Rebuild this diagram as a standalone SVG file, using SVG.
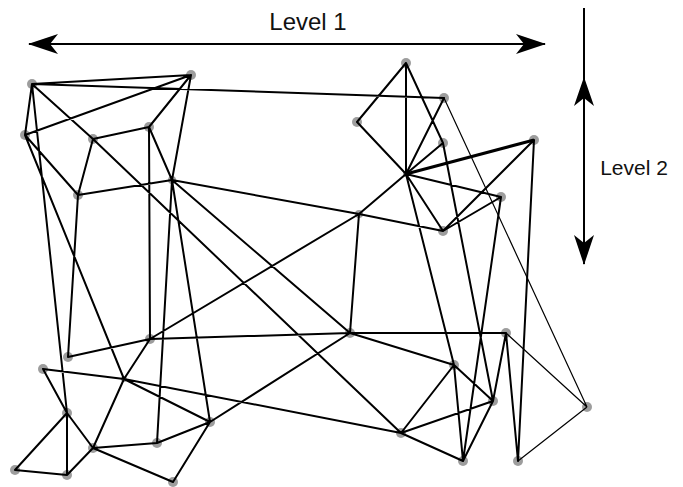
<svg xmlns="http://www.w3.org/2000/svg" width="683" height="487" viewBox="0 0 683 487">
<style>
.n{fill:#8c8c8c;opacity:0.85}
.e{stroke:#000;stroke-width:2;fill:none;stroke-linecap:round}
.t{stroke:#000;stroke-width:1.2;fill:none}
.lbl{font-family:"Liberation Sans",Arial,sans-serif;fill:#111}
</style>
<defs>
<marker id="ah" viewBox="0 0 30 20" refX="29" refY="10" markerWidth="30" markerHeight="20" markerUnits="userSpaceOnUse" orient="auto-start-reverse">
<path d="M30,10 L0,0 L8,10 L0,20 Z" fill="#000"/>
</marker>
</defs>
<rect width="683" height="487" fill="#fff"/>
<g id="nodes">
<g id="A"><circle class="n" cx="32" cy="84" r="5"/></g>
<g id="B"><circle class="n" cx="191" cy="75" r="5"/></g>
<g id="C"><circle class="n" cx="25" cy="135" r="5"/></g>
<g id="D"><circle class="n" cx="93" cy="139" r="5"/></g>
<g id="E"><circle class="n" cx="149" cy="127" r="5"/></g>
<g id="F"><circle class="n" cx="172" cy="180" r="4"/></g>
<g id="G"><circle class="n" cx="78" cy="195" r="5"/></g>
<g id="H"><circle class="n" cx="406" cy="63" r="5"/></g>
<g id="I"><circle class="n" cx="444" cy="98" r="5"/></g>
<g id="J"><circle class="n" cx="357" cy="122" r="5"/></g>
<g id="K"><circle class="n" cx="443" cy="143" r="5"/></g>
<g id="L"><circle class="n" cx="406" cy="174" r="3"/></g>
<g id="M"><circle class="n" cx="534" cy="140" r="5"/></g>
<g id="N"><circle class="n" cx="501" cy="197" r="5"/></g>
<g id="O"><circle class="n" cx="443" cy="231" r="5"/></g>
<g id="P"><circle class="n" cx="359" cy="214" r="4"/></g>
<g id="Q"><circle class="n" cx="350" cy="333" r="5"/></g>
<g id="R"><circle class="n" cx="150" cy="339" r="5"/></g>
<g id="S"><circle class="n" cx="68" cy="357" r="5"/></g>
<g id="T"><circle class="n" cx="43" cy="369" r="5"/></g>
<g id="U"><circle class="n" cx="124" cy="379" r="3"/></g>
<g id="V"><circle class="n" cx="67" cy="413" r="5"/></g>
<g id="W"><circle class="n" cx="93" cy="448" r="5"/></g>
<g id="X"><circle class="n" cx="157" cy="443" r="5"/></g>
<g id="Y"><circle class="n" cx="210" cy="422" r="5"/></g>
<g id="Z"><circle class="n" cx="15" cy="470" r="5"/></g>
<g id="AA"><circle class="n" cx="67" cy="475" r="5"/></g>
<g id="AB"><circle class="n" cx="173" cy="482" r="5"/></g>
<g id="AC"><circle class="n" cx="506" cy="333" r="5"/></g>
<g id="AD"><circle class="n" cx="454" cy="365" r="5"/></g>
<g id="AE"><circle class="n" cx="493" cy="401" r="5"/></g>
<g id="AF"><circle class="n" cx="587" cy="407" r="5"/></g>
<g id="AG"><circle class="n" cx="401" cy="433" r="5"/></g>
<g id="AH"><circle class="n" cx="463" cy="461" r="5"/></g>
<g id="AI"><circle class="n" cx="518" cy="461" r="5"/></g>
</g>
<g id="connectors">
<path class="e" d="M32,84L191,75 M32,84L444,98 M32,84L25,135 M32,84L67,413 M32,84L93,139
M191,75L25,135 M191,75L149,127 M191,75L172,180
M25,135L124,379 M25,135L78,195
M93,139L149,127 M93,139L78,195 M93,139L401,433
M149,127L150,339 M149,127L172,180
M172,180L78,195 M172,180L359,214 M172,180L350,333 M172,180L157,443 M172,180L210,422
M78,195L68,357
M406,63L357,122 M406,63L406,174 M406,63L443,143
M444,98L406,174
M357,122L406,174
M443,143L406,174 M443,143L493,401
M406,174L501,197 M406,174L443,231 M406,174L359,214 M406,174L454,365
M534,140L443,231 M534,140L518,461
M501,197L443,231 M501,197L463,461
M443,231L359,214
M359,214L350,333 M359,214L150,339
M150,339L350,333 M350,333L506,333 M350,333L210,422 M350,333L454,365
M150,339L68,357 M150,339L124,379
M43,369L124,379 M43,369L67,413
M124,379L93,448 M124,379L210,422 M124,379L401,433
M67,413L93,448 M67,413L15,470 M67,413L67,475
M93,448L157,443 M93,448L67,475 M93,448L173,482
M157,443L210,422 M210,422L173,482 M15,470L67,475
M506,333L493,401 M506,333L518,461
M454,365L493,401 M454,365L401,433 M454,365L463,461
M493,401L401,433 M493,401L463,461 M401,433L463,461"/>
<path d="M406,174L534,140" stroke="#000" stroke-width="3" fill="none"/>
<path class="t" d="M444,98L587,407 M506,333L587,407 M518,461L587,407"/>
<line x1="29" y1="44" x2="545" y2="44" stroke="#000" stroke-width="2" marker-start="url(#ah)" marker-end="url(#ah)"/>
<line x1="584" y1="8" x2="584" y2="264" stroke="#000" stroke-width="2" marker-end="url(#ah)"/>
<path d="M584,77 L594,106 L584,98 L574,106 Z" fill="#000"/>
</g>
<text class="lbl" x="308" y="30" text-anchor="middle" font-size="24">Level 1</text>
<text class="lbl" x="634" y="175" text-anchor="middle" font-size="21">Level 2</text>
</svg>
